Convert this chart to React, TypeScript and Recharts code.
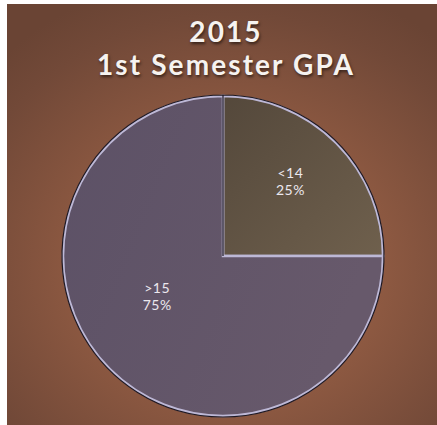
import React from 'react';
import { PieChart, Pie, Cell } from 'recharts';

const categories = ['<14', '>15'];
const shares = [25, 75];
const titleLines = ['2015', '1st Semester GPA'];

const data = categories.map((name, i) => ({ name, value: shares[i] }));
const fills = ['url(#gBrown)', 'url(#gPurple)'];
const labelRadius = [0.63, 0.48];
const labelAngleShift = [3, -14];

const RAD = Math.PI / 180;

const renderLabel = (props: any) => {
  const { cx, cy, midAngle, outerRadius, index, name, percent } = props;
  const r = outerRadius * labelRadius[index];
  const a = (midAngle + labelAngleShift[index]) * RAD;
  const x = cx + r * Math.cos(a);
  const y = cy - r * Math.sin(a);
  return (
    <text
      x={x}
      y={y}
      textAnchor="middle"
      fill="#ece8ee"
      fontFamily="Lato, 'Open Sans', sans-serif"
      fontSize={14}
      letterSpacing={0.5}
    >
      <tspan x={x} dy={-3}>{name}</tspan>
      <tspan x={x} dy={17}>{`${Math.round(percent * 100)}%`}</tspan>
    </text>
  );
};

export default function App() {
  return (
    <div
      style={{
        position: 'absolute',
        left: 7,
        top: 4,
        width: 430,
        height: 421,
        background:
          'radial-gradient(ellipse 75% 70% at 52% 62%, #a0654b 0%, #8f5a42 45%, #724938 85%, #6a4434 100%)',
        overflow: 'hidden',
      }}
    >
      <div
        style={{
          position: 'absolute',
          left: 4,
          top: 11,
          width: 430,
          textAlign: 'center',
          color: '#f6f3f0',
          fontFamily: "Lato, 'Open Sans', sans-serif",
          fontWeight: 700,
          fontSize: 28,
          lineHeight: '33px',
          letterSpacing: 2.1,
          textShadow: '1px 2px 3px rgba(0,0,0,0.55)',
        }}
      >
        <div>{titleLines[0]}</div>
        <div>{titleLines[1]}</div>
      </div>
      <div style={{ position: 'absolute', left: 0, top: 0 }}>
        <PieChart width={430} height={421} margin={{ top: 0, right: 0, bottom: 0, left: 0 }}>
          <defs>
            <linearGradient id="gBrown" x1="0" y1="0" x2="1" y2="1">
              <stop offset="0%" stopColor="#54483b" />
              <stop offset="100%" stopColor="#6f604d" />
            </linearGradient>
            <linearGradient id="gPurple" x1="0" y1="0" x2="1" y2="0.4">
              <stop offset="0%" stopColor="#5c5166" />
              <stop offset="100%" stopColor="#67596b" />
            </linearGradient>
          </defs>
          <Pie
            data={data}
            dataKey="value"
            nameKey="name"
            cx={216}
            cy={252}
            outerRadius={160}
            startAngle={90}
            endAngle={-270}
            stroke="#bdb8d6"
            strokeWidth={2.5}
            label={renderLabel}
            labelLine={false}
            isAnimationActive={false}
          >
            {data.map((d, i) => (
              <Cell key={d.name} fill={fills[i]} />
            ))}
          </Pie>
          <Pie
            data={[{ name: 'rim', value: 1 }]}
            dataKey="value"
            cx={216}
            cy={252}
            outerRadius={161}
            startAngle={90}
            endAngle={-270}
            fill="none"
            stroke="#1e1822"
            strokeWidth={1.2}
            isAnimationActive={false}
            legendType="none"
          />
        </PieChart>
      </div>
    </div>
  );
}
